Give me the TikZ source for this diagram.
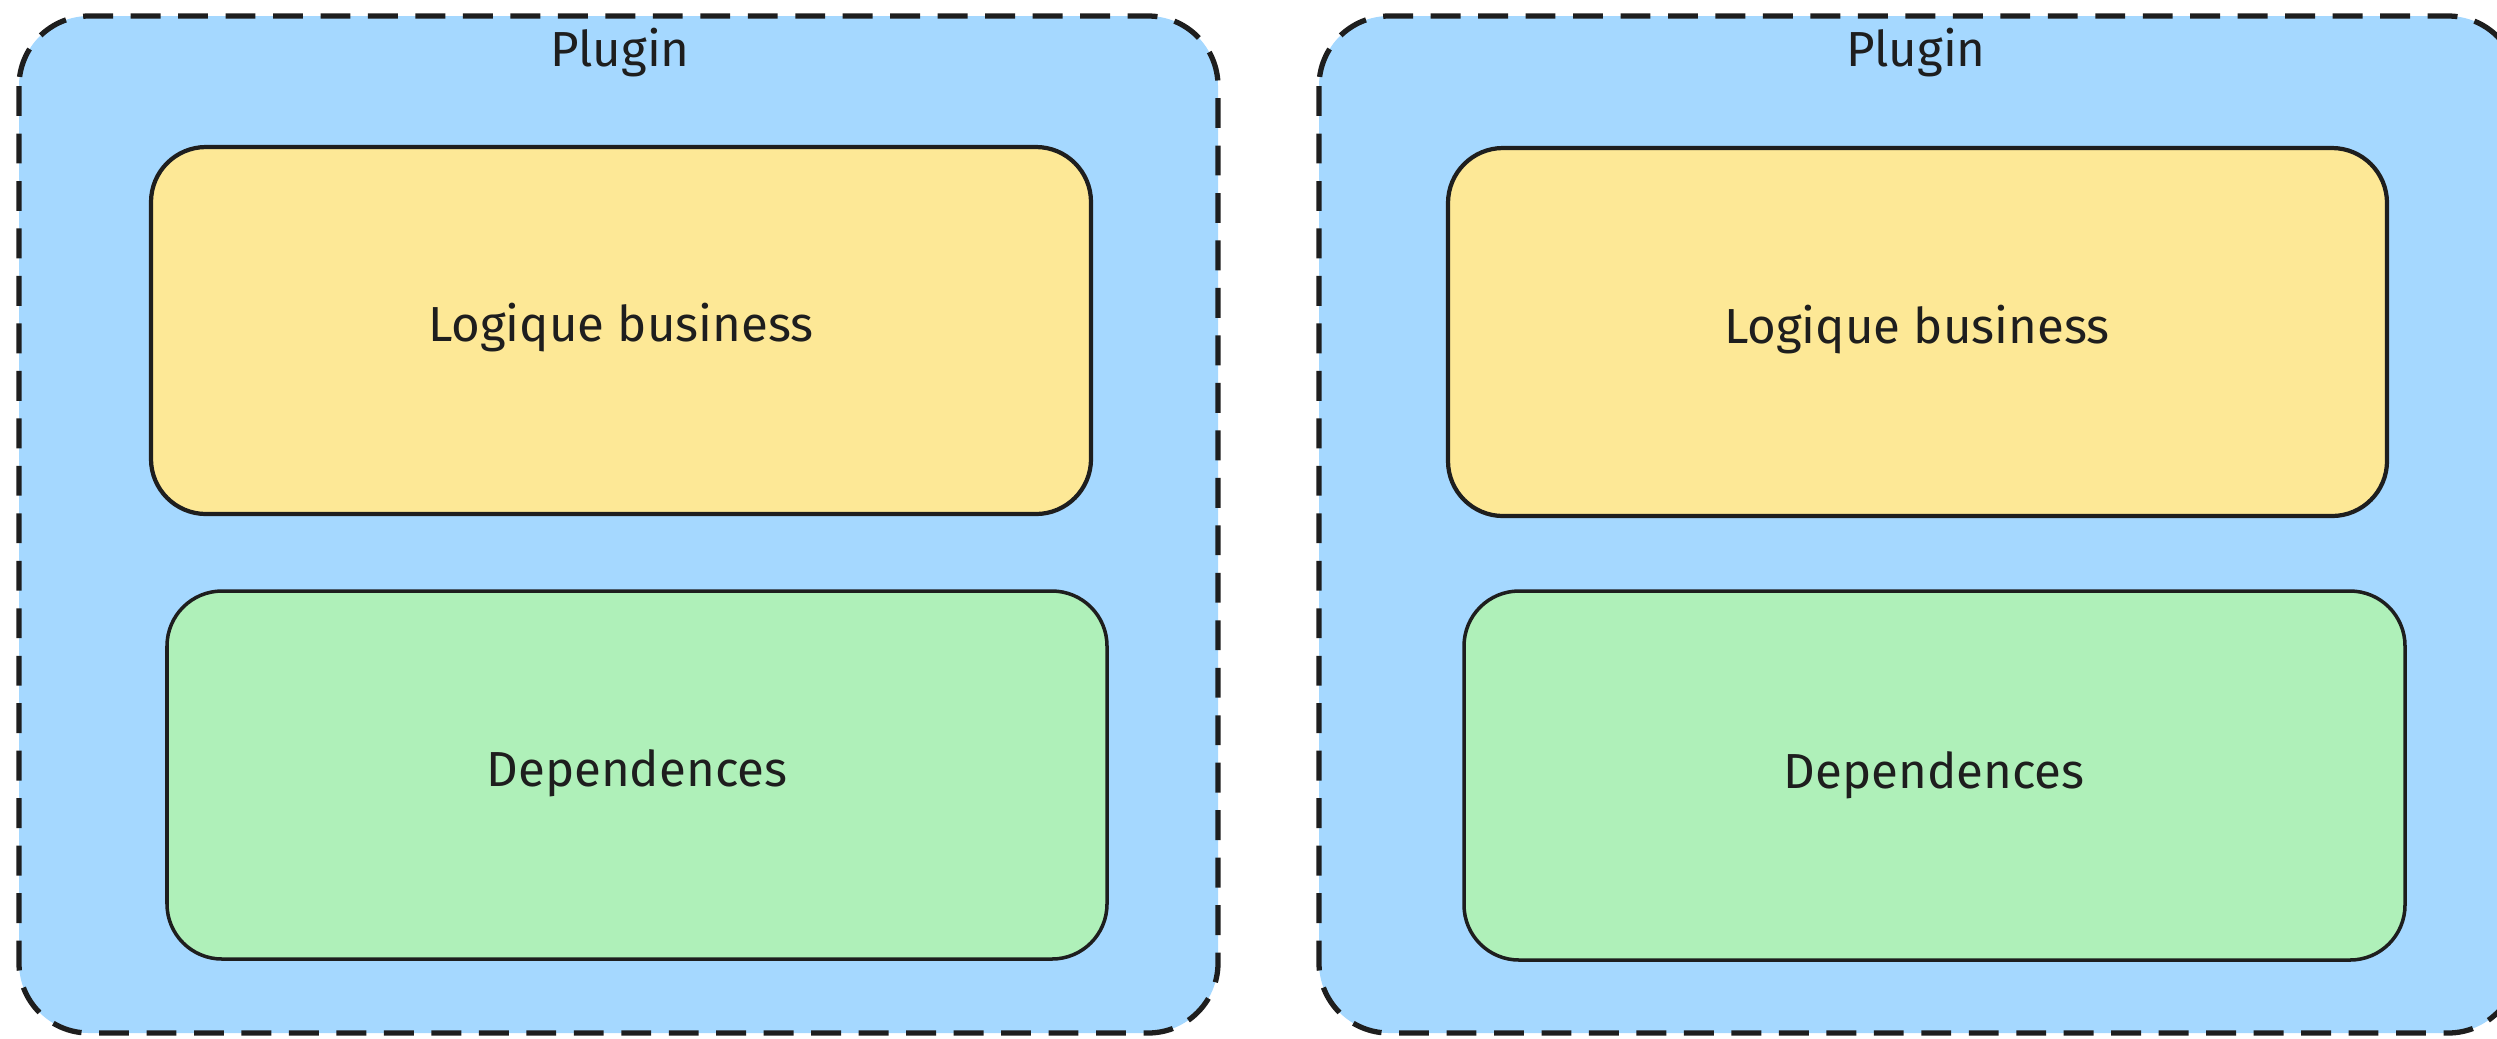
\documentclass[tikz,border=0pt]{standalone}
\usepackage{fontspec}
\setmainfont{Fira Sans}
\definecolor{plugblue}{HTML}{A5D8FF}
\definecolor{logyellow}{HTML}{FDE896}
\definecolor{depgreen}{HTML}{AFF0B9}
\definecolor{inkc}{HTML}{1E1E1E}
\begin{document}
\begin{tikzpicture}[x=0.01cm,y=-0.01cm,
  plugbox/.style={draw=inkc, fill=plugblue, line width=1.5pt, dash pattern=on 8.5pt off 5pt, rounded corners=0.7cm},
  logicbox/.style={draw=inkc, fill=logyellow, line width=1.2pt, rounded corners=0.55cm},
  depbox/.style={draw=inkc, fill=depgreen, line width=1pt, rounded corners=0.55cm},
  lbl/.style={font=\fontsize{14}{16}\selectfont, text=inkc}]
\useasboundingbox (0,0) rectangle (2497,1038);
\clip (0,0) rectangle (2497,1038);
% left plugin
\draw[plugbox] (19,16) rectangle (1218,1033);
\node[lbl] (pl1) at (620,53) {Plugin};
\draw[logicbox] (151,147) rectangle (1091,514);
\node[lbl] (lb1) at (621,328) {Logique business};
\draw[depbox] (167,591) rectangle (1107,959);
\node[lbl] (dp1) at (637,773) {Dependences};
% right plugin
\draw[plugbox] (1319,16) rectangle (2518,1033);
\node[lbl] (pl2) at (1916,53) {Plugin};
\draw[logicbox] (1448,148) rectangle (2387,516);
\node[lbl] (lb2) at (1917,330) {Logique business};
\draw[depbox] (1464,591) rectangle (2405,960);
\node[lbl] (dp2) at (1934,775) {Dependences};
\end{tikzpicture}
\end{document}
